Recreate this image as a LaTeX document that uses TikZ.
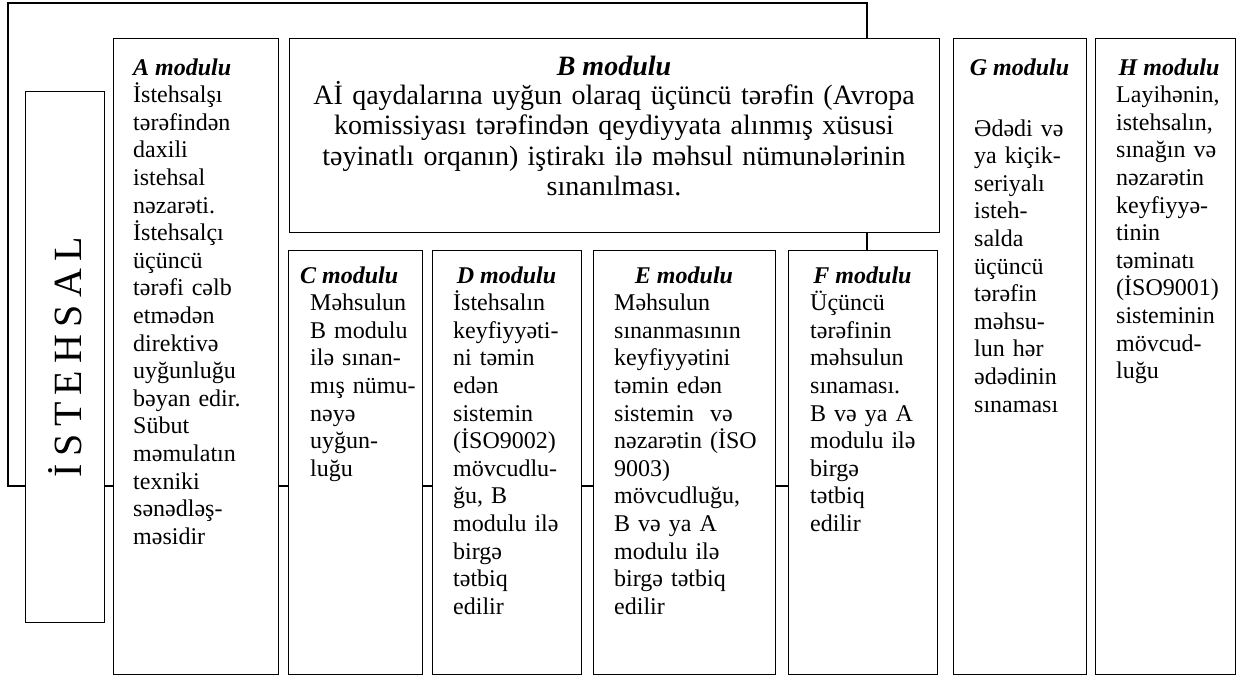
\documentclass[tikz,border=0pt]{standalone}
\usepackage{fontspec}
\setmainfont{Liberation Serif}
\begin{document}
\begin{tikzpicture}[x=1pt,y=-1pt,
  box/.style={draw, line width=1.3pt, fill=white, rectangle, anchor=north west, inner sep=0pt},
  body/.style={anchor=base west, inner sep=0pt, text width=220pt, align=left,
    font=\fontsize{24}{27.6}\selectfont},
  head/.style={anchor=base, inner sep=0pt, font=\fontsize{24}{27.6}\selectfont\bfseries\itshape},
  headl/.style={head, anchor=base west}]
\useasboundingbox (0,0) rectangle (1237,675);

% outer frame linking the production label with modules A-F
\draw[line width=1.3pt] (8,3) rectangle (867,486);

% vertical label
\node[box, minimum width=79pt, minimum height=531pt] (ist) at (25,91) {};
\node[rotate=90, inner sep=0pt, font=\fontsize{40}{40}\selectfont] (istlab) at (ist.center)
  {İ\hspace{7.3pt}S\hspace{7.3pt}T\hspace{7.3pt}E\hspace{7.3pt}H\hspace{7.3pt}S\hspace{7.3pt}A\hspace{7.3pt}L};

% module boxes
\node[box, minimum width=165pt, minimum height=636pt] (A) at (113,38) {};
\node[box, minimum width=650pt, minimum height=194pt] (B) at (289,38) {};
\node[box, minimum width=134pt, minimum height=424pt] (C) at (288,250) {};
\node[box, minimum width=149pt, minimum height=424pt] (D) at (432,250) {};
\node[box, minimum width=182pt, minimum height=424pt] (E) at (593,250) {};
\node[box, minimum width=149pt, minimum height=424pt] (F) at (788,250) {};
\node[box, minimum width=133pt, minimum height=636pt] (G) at (953,38) {};
\node[box, minimum width=140pt, minimum height=636pt] (H) at (1095,38) {};

% A
\node[headl] (Ah) at (133,75) {A modulu};
\node[body] (Ab) at (133,102.6) {İstehsalşı\\tərəfindən\\daxili\\istehsal\\nəzarəti.\\İstehsalçı\\üçüncü\\tərəfi cəlb\\etmədən\\direktivə\\uyğunluğu\\bəyan edir.\\Sübut\\məmulatın\\texniki\\sənədləş-\\məsidir};

% B
\node[head, font=\fontsize{28}{30.5}\selectfont\bfseries\itshape] (Bh) at (614,75) {B modulu};
\node[anchor=base, inner sep=0pt, text width=640pt, align=center,
  font=\fontsize{28}{30.5}\selectfont] (Bb) at (614,104)
  {Aİ qaydalarına uyğun olaraq üçüncü tərəfin (Avropa\\komissiyası tərəfindən qeydiyyata alınmış xüsusi\\təyinatlı orqanın) iştirakı ilə məhsul nümunələrinin\\sınanılması.};

% C
\node[headl] (Ch) at (300,283) {C modulu};
\node[body] (Cb) at (310,310.6) {Məhsulun\\B modulu\\ilə sınan-\\mış nümu-\\nəyə\\uyğun-\\luğu};

% D
\node[head] (Dh) at (506.5,283) {D modulu};
\node[body] (Db) at (453,310.6) {İstehsalın\\keyfiyyəti-\\ni təmin\\edən\\sistemin\\(İSO9002)\\mövcudlu-\\ğu, B\\modulu ilə\\birgə\\tətbiq\\edilir};

% E
\node[head] (Eh) at (684,283) {E modulu};
\node[body] (Eb) at (614,310.6) {Məhsulun\\sınanmasının\\keyfiyyətini\\təmin edən\\sistemin\ \ və\\nəzarətin (İSO\\9003)\\mövcudluğu,\\B və ya A\\modulu ilə\\birgə tətbiq\\edilir};

% F
\node[head] (Fh) at (862.5,283) {F modulu};
\node[body] (Fb) at (810,310.6) {Üçüncü\\tərəfinin\\məhsulun\\sınaması.\\B və ya A\\modulu ilə\\birgə\\tətbiq\\edilir};

% G
\node[head] (Gh) at (1019.5,75) {G modulu};
\node[body] (Gb) at (974,136) {Ədədi və\\ya kiçik-\\seriyalı\\isteh-\\salda\\üçüncü\\tərəfin\\məhsu-\\lun hər\\ədədinin\\sınaması};

% H
\node[head] (Hh) at (1169,75) {H modulu};
\node[body] (Hb) at (1116,102.6) {Layihənin,\\istehsalın,\\sınağın və\\nəzarətin\\keyfiyyə-\\tinin\\təminatı\\(İSO9001)\\sisteminin\\mövcud-\\luğu};
\end{tikzpicture}
\end{document}
